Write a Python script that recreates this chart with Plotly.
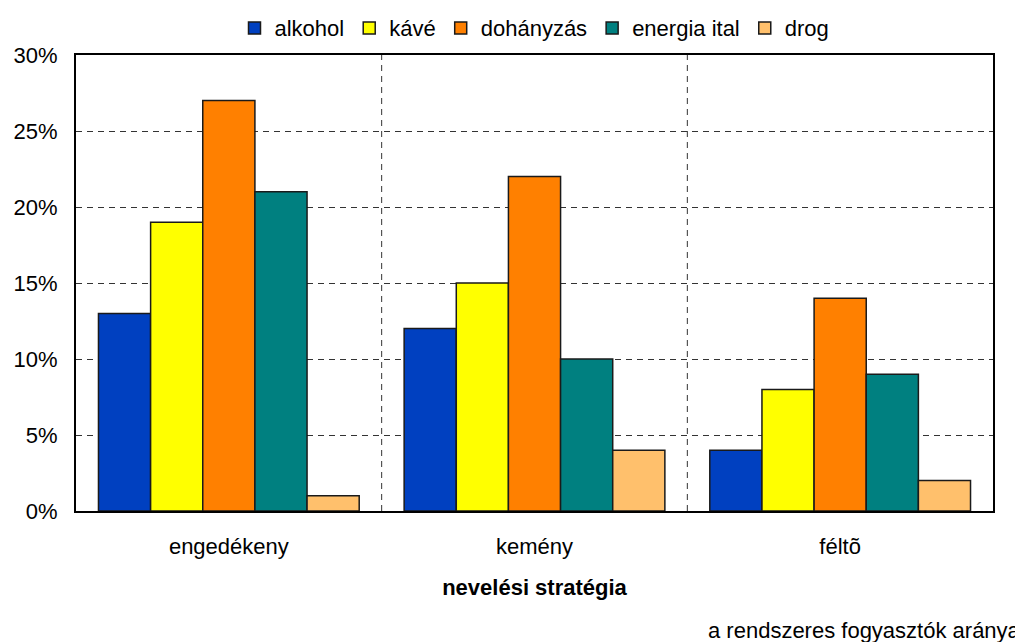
import plotly.graph_objects as go

categories = ["engedékeny", "kemény", "féltõ"]
series_names = ["alkohol", "kávé", "dohányzás", "energia ital", "drog"]
alkohol = [13, 12, 4]
kave = [19, 15, 8]
dohanyzas = [27, 22, 14]
energia_ital = [21, 10, 9]
drog = [1, 4, 2]
colors = ["#0040C0", "#FFFF00", "#FF8000", "#008080", "#FFC06C"]
y_ticks = [0, 5, 10, 15, 20, 25, 30]
y_tick_labels = ["0%", "5%", "10%", "15%", "20%", "25%", "30%"]

FONT = "Liberation Sans, Arial, sans-serif"

fig = go.Figure()
for name, vals, col in zip(series_names, [alkohol, kave, dohanyzas, energia_ital, drog], colors):
    fig.add_trace(go.Bar(
        name=name, x=categories, y=vals,
        marker=dict(color=col, line=dict(color="#1a1a1a", width=1.5)),
    ))

for xb in [0.5, 1.5]:
    fig.add_shape(type="line", xref="x", yref="y", x0=xb, x1=xb, y0=0, y1=30,
                  line=dict(color="#333333", width=1, dash="6px,5px"), layer="below")

# page body has an 8px default margin, so the figure is drawn 8px smaller/offset
fig.update_layout(
    width=1015, height=634,
    paper_bgcolor="white", plot_bgcolor="white",
    margin=dict(l=68, r=30, t=47, b=131, autoexpand=False),
    barmode="group", bargap=0.147, bargroupgap=0,
    font=dict(family=FONT, size=22, color="black"),
    legend=dict(orientation="h", x=0.5, xanchor="center", y=1.059, yanchor="middle",
                bgcolor="rgba(0,0,0,0)", font=dict(size=22), itemwidth=30,
                tracegroupgap=0),
    xaxis=dict(showline=True, linecolor="black", linewidth=2, mirror=True,
               ticks="", tickfont=dict(size=22), automargin=False, ticklabelstandoff=15,
               title=dict(text="<b>nevelési stratégia</b>", font=dict(size=22), standoff=21)),
    yaxis=dict(range=[0, 30], tickvals=y_ticks, ticktext=y_tick_labels,
               showline=True, linecolor="black", linewidth=2, mirror=True,
               showgrid=True, gridcolor="#333333", gridwidth=1, griddash="6px,5px",
               ticks="", tickfont=dict(size=22), zeroline=False, automargin=False,
               ticklabelstandoff=12),
    annotations=[dict(text="a rendszeres fogyasztók aránya", xref="paper", yref="paper",
                      x=1.033, y=-0.261, xanchor="right", yanchor="middle",
                      showarrow=False, font=dict(size=22))],
)

fig.write_html("out.html")
